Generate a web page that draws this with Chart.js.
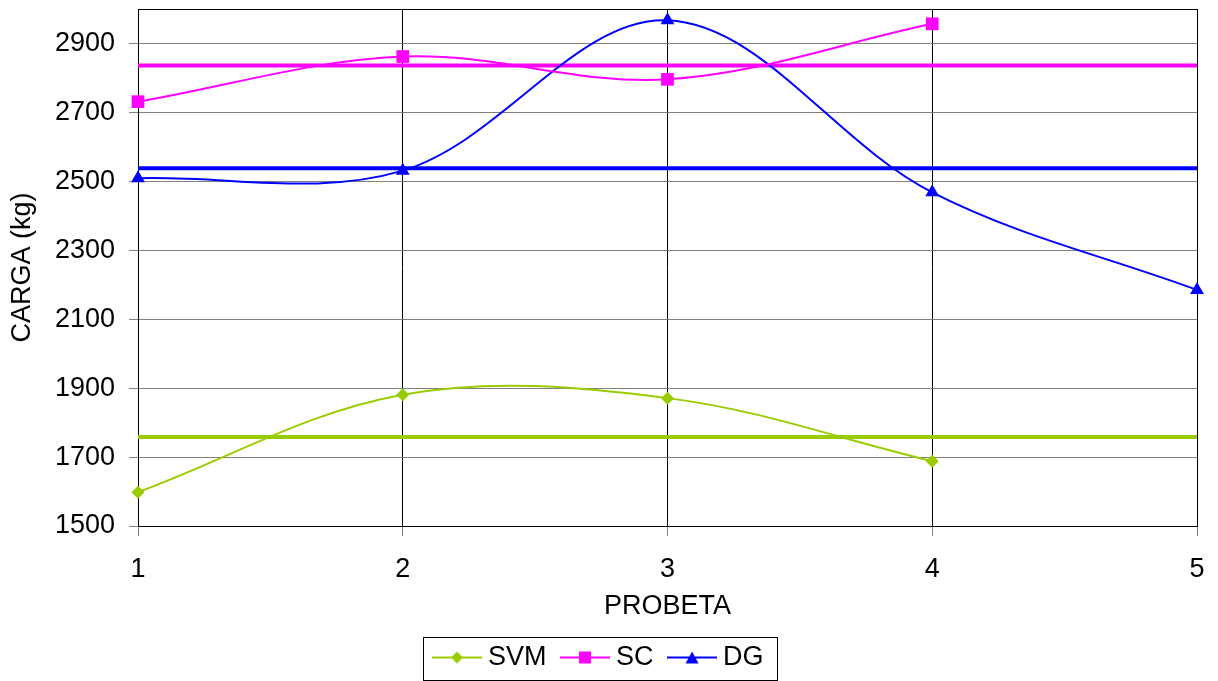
<!DOCTYPE html>
<html>
<head>
<meta charset="utf-8">
<script src="https://cdn.jsdelivr.net/npm/chart.js@4"></script>
<style>
  html, body { margin: 0; padding: 0; background: #fff; }
  #chart { display: block; }
</style>
</head>
<body>
<canvas id="chart" width="1218" height="681"></canvas>
<script>
// datos
const probetas = [1, 2, 3, 4, 5];
const svm = [1598, 1881, 1871, 1688];
const sc = [2731, 2862, 2796, 2957];
const dg = [2509, 2531, 2967, 2468, 2185];
const promedios = [1758, 2836, 2538]; // SVM, SC, DG
const yTicks = [1500, 1700, 1900, 2100, 2300, 2500, 2700, 2900];

const verde = '#99CC00';
const rosa = '#FF00FF';
const azul = '#0000FF';

function puntos(valores) {
    return valores.map((v, i) => ({ x: probetas[i], y: v }));
}

function lineaMedia(v) {
    return [{ x: probetas[0], y: v }, { x: probetas[probetas.length - 1], y: v }];
}

// icono de leyenda: línea con marcador en el centro
function iconoLeyenda(color, tipo) {
    const c = document.createElement('canvas');
    c.width = 50; c.height = 16;
    const ctx = c.getContext('2d');
    ctx.strokeStyle = color;
    ctx.fillStyle = color;
    ctx.lineWidth = 2;
    ctx.beginPath();
    ctx.moveTo(0, 8); ctx.lineTo(50, 8);
    ctx.stroke();
    ctx.beginPath();
    if (tipo === 'rombo') {
        ctx.moveTo(25, 2); ctx.lineTo(31, 8); ctx.lineTo(25, 14); ctx.lineTo(19, 8);
    } else if (tipo === 'cuadro') {
        ctx.rect(19, 2, 12, 12);
    } else {
        ctx.moveTo(25, 2); ctx.lineTo(31.5, 14); ctx.lineTo(18.5, 14);
    }
    ctx.closePath();
    ctx.fill();
    return c;
}

const iconos = [iconoLeyenda(verde, 'rombo'), iconoLeyenda(rosa, 'cuadro'), iconoLeyenda(azul, 'triangulo')];

// marco negro del área de trazado y recuadro de la leyenda
const marco = {
    id: 'marco',
    afterLayout(chart) {
        chart.legend.left += 3;
        chart.legend.right += 3;
    },
    beforeDatasetsDraw(chart) {
        const a = chart.chartArea;
        const ctx = chart.ctx;
        ctx.save();
        ctx.strokeStyle = '#000';
        ctx.lineWidth = 1;
        ctx.strokeRect(Math.round(a.left) + 0.5, Math.round(a.top) + 0.5,
            Math.round(a.right - a.left), Math.round(a.bottom - a.top));
        ctx.restore();
    },
    afterDraw(chart) {
        const lg = chart.legend;
        const boxes = lg.legendHitBoxes;
        if (!boxes || !boxes.length) return;
        const cx = (lg.left + lg.right) / 2 - 2;
        const cy = boxes[0].top + boxes[0].height / 2;
        const ctx = chart.ctx;
        ctx.save();
        ctx.strokeStyle = '#000';
        ctx.lineWidth = 1;
        ctx.strokeRect(Math.round(cx - 177) + 0.5, Math.round(cy - 21) + 0.5, 354, 43);
        ctx.restore();
    }
};

Chart.defaults.font.family = '"Liberation Sans", Arial, sans-serif';
Chart.defaults.font.size = 27;
Chart.defaults.color = '#000';

const ctx = document.getElementById('chart').getContext('2d');
new Chart(ctx, {
    type: 'line',
    data: {
        datasets: [
            {
                label: 'SVM',
                data: puntos(svm),
                borderColor: verde,
                backgroundColor: verde,
                borderWidth: 2,
                pointStyle: 'rectRot',
                pointRadius: 6.5,
                pointBorderWidth: 0,
                tension: 0.35,
                clip: false,
                order: 0
            },
            {
                label: 'SC',
                data: puntos(sc),
                borderColor: rosa,
                backgroundColor: rosa,
                borderWidth: 2,
                pointStyle: 'rect',
                pointRadius: 9,
                pointBorderWidth: 0,
                tension: 0.35,
                clip: false,
                order: 0
            },
            {
                label: 'DG',
                data: puntos(dg),
                borderColor: azul,
                backgroundColor: azul,
                borderWidth: 2,
                pointStyle: 'triangle',
                pointRadius: 8,
                pointBorderWidth: 0,
                tension: 0.35,
                clip: false,
                order: 0
            },
            {
                label: 'media SVM',
                data: lineaMedia(promedios[0]),
                borderColor: verde,
                borderWidth: 4,
                pointRadius: 0,
                tension: 0,
                clip: false,
                order: 1
            },
            {
                label: 'media SC',
                data: lineaMedia(promedios[1]),
                borderColor: rosa,
                borderWidth: 4,
                pointRadius: 0,
                tension: 0,
                clip: false,
                order: 1
            },
            {
                label: 'media DG',
                data: lineaMedia(promedios[2]),
                borderColor: azul,
                borderWidth: 4,
                pointRadius: 0,
                tension: 0,
                clip: false,
                order: 1
            }
        ]
    },
    options: {
        responsive: false,
        animation: false,
        devicePixelRatio: 1,
        layout: {
            padding: { top: 7, right: 21, left: 0, bottom: 0 }
        },
        scales: {
            x: {
                type: 'linear',
                min: 1,
                max: 5,
                ticks: {
                    stepSize: 1,
                    padding: 17,
                    font: { size: 27 }
                },
                grid: {
                    color: '#000',
                    tickColor: '#808080',
                    tickLength: 10,
                    lineWidth: 1
                },
                border: { display: false },
                title: {
                    display: true,
                    text: 'PROBETA',
                    font: { size: 27 },
                    padding: { top: 0, bottom: 0 }
                },
                afterFit(scale) {
                    scale.height = 97;
                    scale.paddingLeft = 0;
                    scale.paddingRight = 0;
                }
            },
            y: {
                min: 1500,
                max: 3000,
                afterBuildTicks(scale) {
                    scale.ticks = yTicks.map(v => ({ value: v }));
                },
                ticks: {
                    padding: 14,
                    font: { size: 27 },
                    callback: v => String(v)
                },
                grid: {
                    color: '#808080',
                    tickColor: '#808080',
                    tickLength: 9,
                    lineWidth: 1
                },
                border: { display: false },
                title: {
                    display: true,
                    text: 'CARGA (kg)',
                    font: { size: 27 },
                    padding: { top: 6, bottom: 0 }
                },
                afterFit(scale) {
                    scale.width = 138;
                    scale.paddingTop = 0;
                    scale.paddingBottom = 0;
                }
            }
        },
        plugins: {
            tooltip: { enabled: false },
            legend: {
                position: 'bottom',
                labels: {
                    usePointStyle: true,
                    pointStyleWidth: 35,
                    padding: 21,
                    font: { size: 27 },
                    color: '#000',
                    filter: item => item.datasetIndex < 3,
                    generateLabels(chart) {
                        const base = Chart.defaults.plugins.legend.labels.generateLabels(chart);
                        return base.map(l => {
                            if (l.datasetIndex < 3) l.pointStyle = iconos[l.datasetIndex];
                            return l;
                        });
                    }
                }
            }
        }
    },
    plugins: [marco]
});
</script>
</body>
</html>
